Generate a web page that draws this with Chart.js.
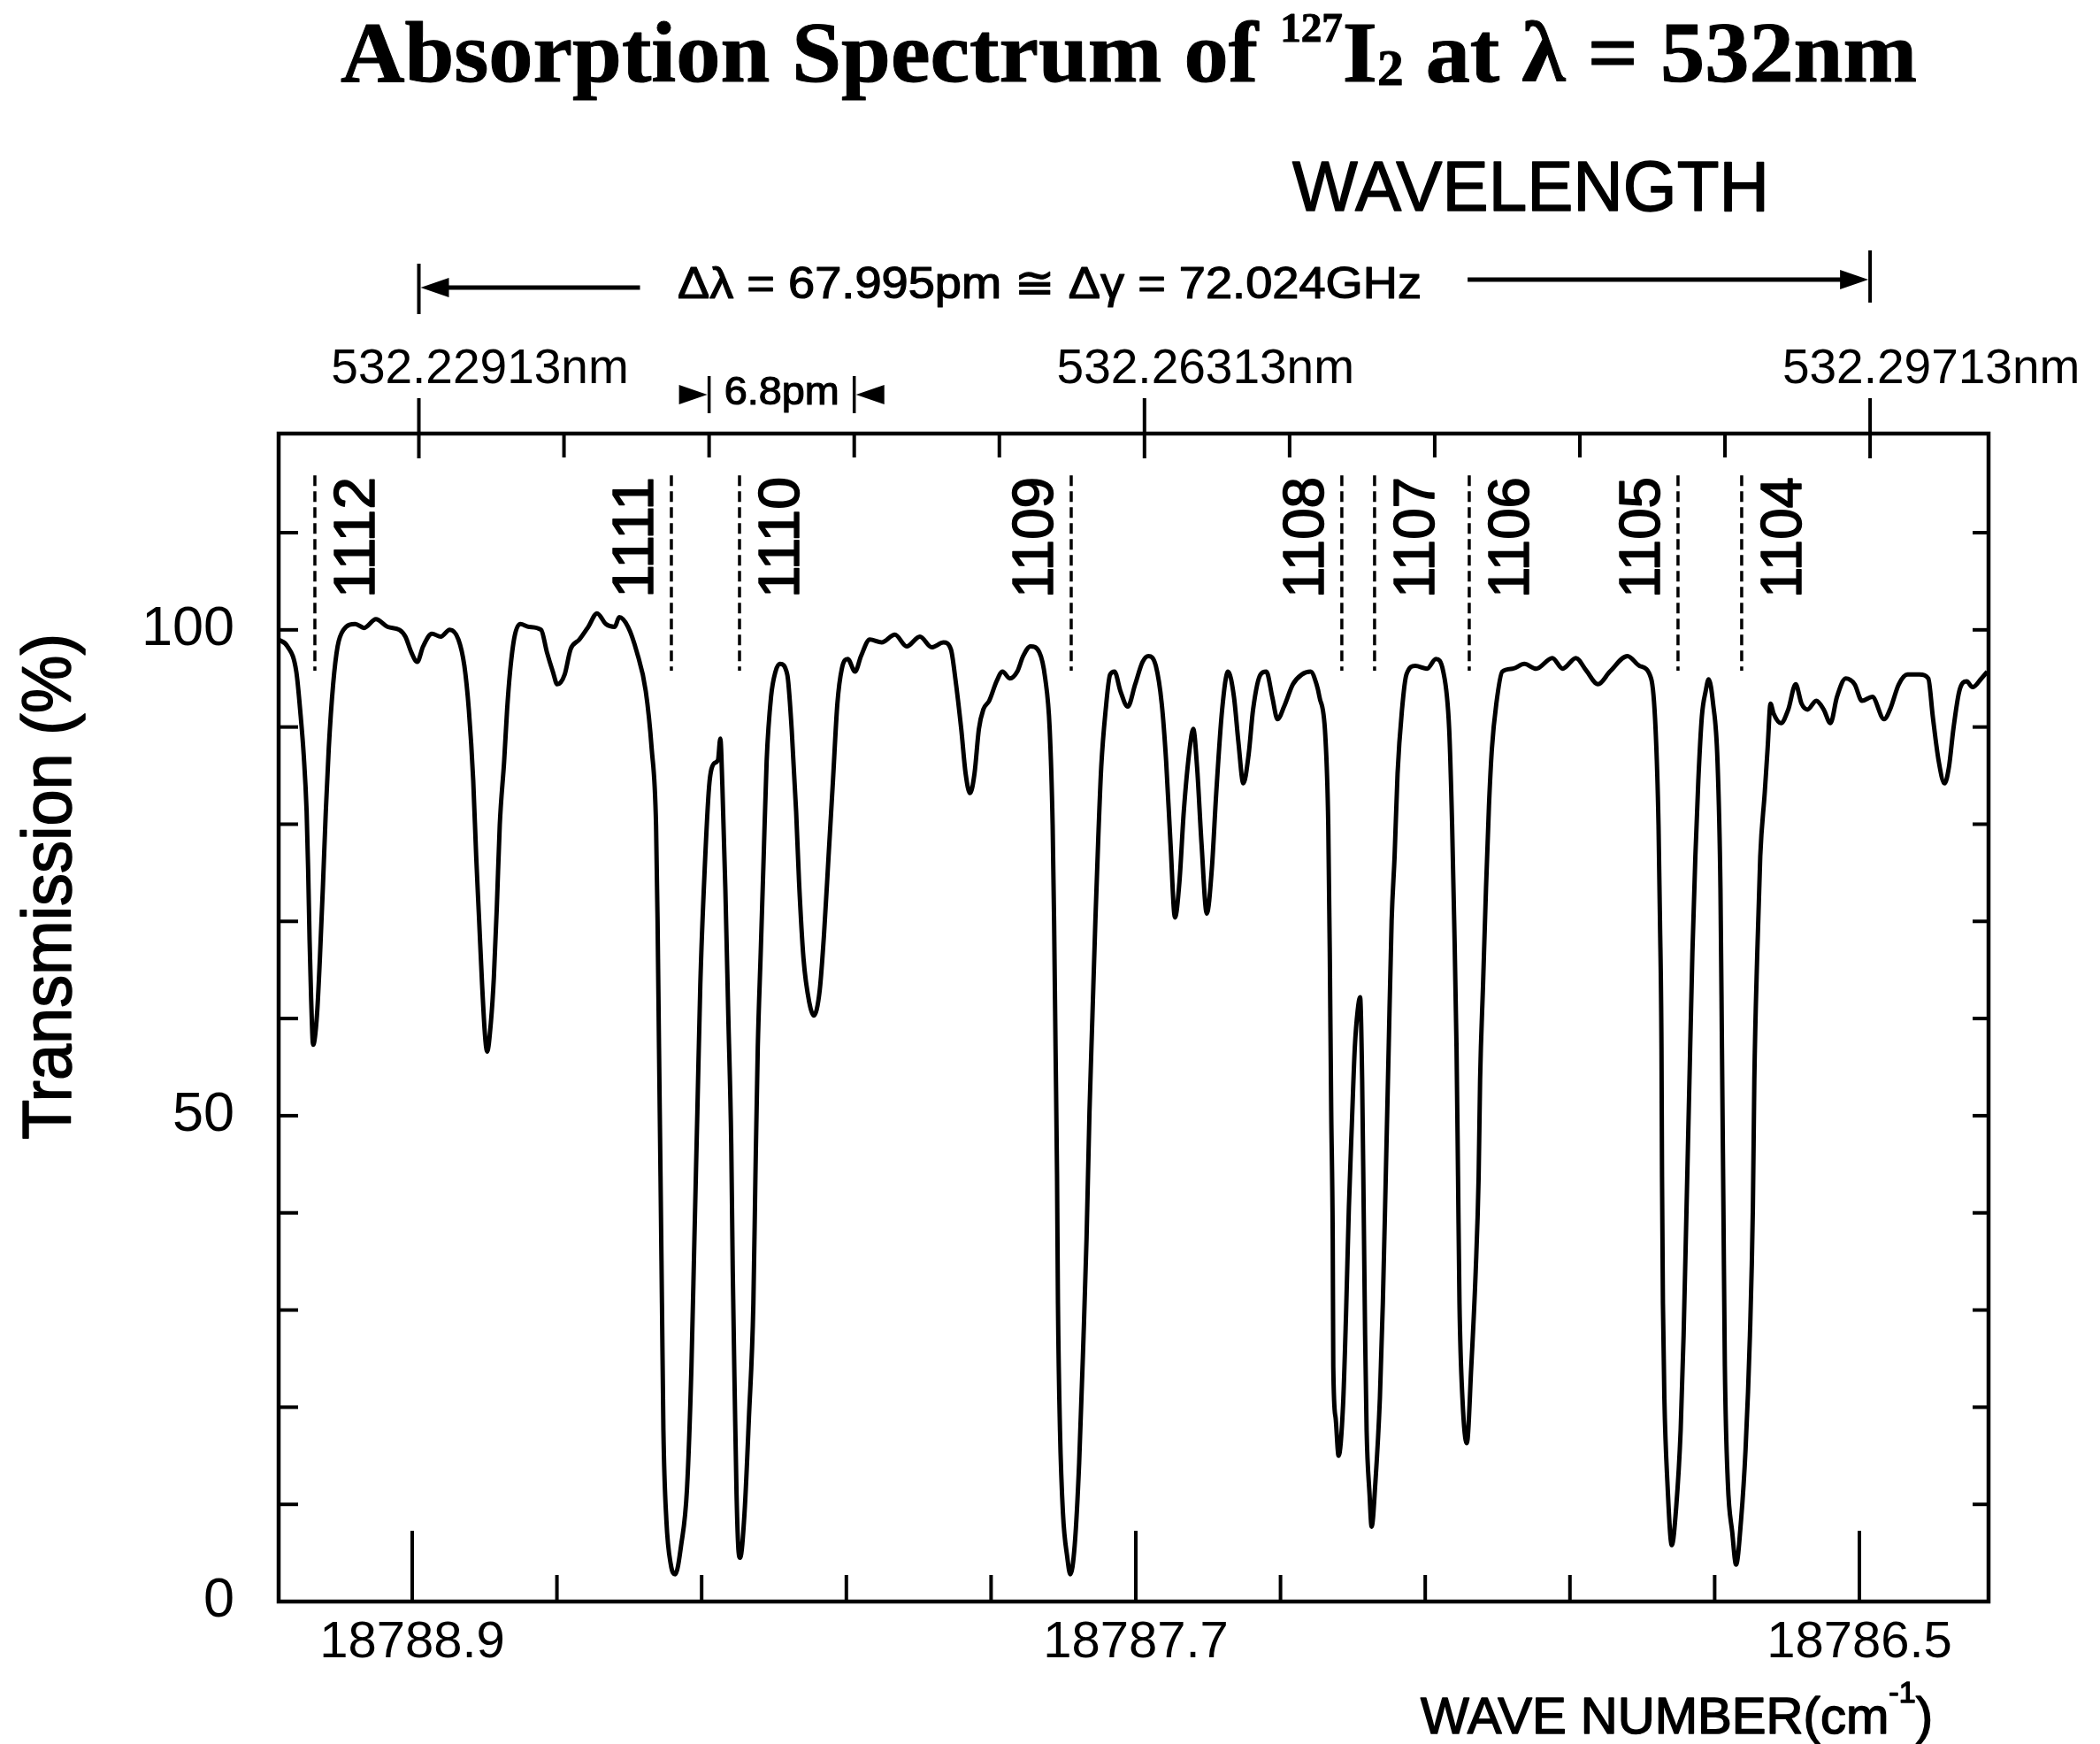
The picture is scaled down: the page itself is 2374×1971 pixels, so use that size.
<!DOCTYPE html>
<html>
<head>
<meta charset="utf-8">
<title>Absorption Spectrum of 127I2 at 532nm</title>
<script src="https://cdn.jsdelivr.net/npm/chart.js@4.4.1/dist/chart.umd.min.js"></script>
<style>
  html, body { margin: 0; padding: 0; background: #fff; }
</style>
</head>
<body>
<canvas id="spectrumChart" width="2374" height="1971"></canvas>
<script>
// wave number (cm-1) from left to right
const waveNumbers = [
  18789.1215, 18789.1069, 18789.0922, 18789.0849, 18789.0800, 18789.0751, 18789.0726, 18789.0702, 18789.0677, 18789.0643,
  18789.0580, 18789.0531, 18789.0482, 18789.0433, 18789.0384, 18789.0311, 18789.0237, 18789.0140, 18788.9944, 18788.9797,
  18788.9602, 18788.9406, 18788.9211, 18788.9113, 18788.9015, 18788.8917, 18788.8819, 18788.8673, 18788.8526, 18788.8379,
  18788.8233, 18788.8135, 18788.8061, 18788.7988, 18788.7939, 18788.7890, 18788.7841, 18788.7793, 18788.7758, 18788.7695,
  18788.7646, 18788.7597, 18788.7548, 18788.7475, 18788.7426, 18788.7377, 18788.7303, 18788.7206, 18788.7059, 18788.6863,
  18788.6766, 18788.6668, 18788.6594, 18788.6472, 18788.6374, 18788.6228, 18788.6081, 18788.5934, 18788.5788, 18788.5641,
  18788.5567, 18788.5420, 18788.5274, 18788.5127, 18788.5029, 18788.4956, 18788.4931, 18788.4907, 18788.4882, 18788.4858,
  18788.4834, 18788.4785, 18788.4711, 18788.4638, 18788.4540, 18788.4442, 18788.4369, 18788.4320, 18788.4271, 18788.4222,
  18788.4149, 18788.4076, 18788.4002, 18788.3929, 18788.3890, 18788.3856, 18788.3807, 18788.3758, 18788.3709, 18788.3684,
  18788.3650, 18788.3621, 18788.3587, 18788.3562, 18788.3489, 18788.3416, 18788.3342, 18788.3308, 18788.3269, 18788.3220,
  18788.3171, 18788.3122, 18788.3049, 18788.2975, 18788.2902, 18788.2780, 18788.2707, 18788.2633, 18788.2584, 18788.2511,
  18788.2413, 18788.2340, 18788.2242, 18788.2169, 18788.2095, 18788.2022, 18788.1949, 18788.1875, 18788.1778, 18788.1655,
  18788.1557, 18788.1411, 18788.1215, 18788.0995, 18788.0800, 18788.0580, 18788.0384, 18788.0188, 18788.0066, 18787.9993,
  18787.9895, 18787.9822, 18787.9749, 18787.9675, 18787.9602, 18787.9529, 18787.9431, 18787.9309, 18787.9211, 18787.9088,
  18787.8966, 18787.8868, 18787.8746, 18787.8600, 18787.8502, 18787.8428, 18787.8379, 18787.8355, 18787.8331, 18787.8306,
  18787.8291, 18787.8257, 18787.8208, 18787.8135, 18787.8086, 18787.8013, 18787.7939, 18787.7866, 18787.7817, 18787.7768,
  18787.7719, 18787.7670, 18787.7622, 18787.7573, 18787.7499, 18787.7426, 18787.7353, 18787.7255, 18787.7133, 18787.7010,
  18787.6888, 18787.6790, 18787.6668, 18787.6570, 18787.6497, 18787.6424, 18787.6350, 18787.6277, 18787.6204, 18787.6106,
  18787.6047, 18787.5984, 18787.5910, 18787.5822, 18787.5739, 18787.5666, 18787.5568, 18787.5470, 18787.5372, 18787.5299,
  18787.5216, 18787.5128, 18787.5055, 18787.4932, 18787.4835, 18787.4737, 18787.4649, 18787.4541, 18787.4394, 18787.4248,
  18787.4101, 18787.4003, 18787.3954, 18787.3857, 18787.3808, 18787.3783, 18787.3759, 18787.3734, 18787.3725, 18787.3686,
  18787.3637, 18787.3563, 18787.3514, 18787.3466, 18787.3417, 18787.3368, 18787.3319, 18787.3280, 18787.3246, 18787.3221,
  18787.3197, 18787.3172, 18787.3123, 18787.3089, 18787.3026, 18787.2952, 18787.2903, 18787.2854, 18787.2806, 18787.2757,
  18787.2708, 18787.2659, 18787.2585, 18787.2512, 18787.2365, 18787.2170, 18787.2023, 18787.1901, 18787.1803, 18787.1754,
  18787.1720, 18787.1681, 18787.1656, 18787.1632, 18787.1583, 18787.1510, 18787.1436, 18787.1363, 18787.1314, 18787.1290,
  18787.1241, 18787.1192, 18787.1143, 18787.1094, 18787.1021, 18787.0923, 18787.0752, 18787.0556, 18787.0361, 18787.0092,
  18786.9921, 18786.9701, 18786.9529, 18786.9334, 18786.9138, 18786.8845, 18786.8649, 18786.8454, 18786.8380, 18786.8331,
  18786.8307, 18786.8282, 18786.8273, 18786.8258, 18786.8234, 18786.8184, 18786.8111, 18786.8038, 18786.7964, 18786.7915,
  18786.7866, 18786.7818, 18786.7769, 18786.7720, 18786.7671, 18786.7612, 18786.7549, 18786.7500, 18786.7426, 18786.7353,
  18786.7304, 18786.7279, 18786.7255, 18786.7231, 18786.7182, 18786.7108, 18786.7045, 18786.6962, 18786.6888, 18786.6815,
  18786.6766, 18786.6742, 18786.6693, 18786.6644, 18786.6570, 18786.6522, 18786.6473, 18786.6424, 18786.6301, 18786.6179,
  18786.6057, 18786.5959, 18786.5861, 18786.5715, 18786.5592, 18786.5480, 18786.5372, 18786.5226, 18786.5079, 18786.4957,
  18786.4786, 18786.4590, 18786.4492, 18786.4346, 18786.4199, 18786.4003, 18786.3857, 18786.3783, 18786.3685, 18786.3588,
  18786.3514, 18786.3441, 18786.3343, 18786.3221, 18786.3123, 18786.2976, 18786.2879
];

// transmission (%) at each wave number above
const transmission = [
  99.0, 98.3, 95.7, 91.1, 87.2, 81.3, 75.4, 68.1, 62.2, 57.3,
  60.3, 66.2, 73.4, 81.3, 87.8, 94.4, 98.3, 100.0, 100.6, 100.2,
  101.1, 100.3, 100.0, 99.3, 97.7, 96.7, 98.3, 99.6, 99.3, 100.0,
  99.0, 96.3, 91.8, 84.5, 76.7, 70.1, 63.5, 58.3, 56.6, 59.6,
  64.2, 71.4, 79.9, 86.5, 91.8, 95.7, 99.3, 100.6, 100.3, 100.0,
  97.7, 95.7, 94.4, 95.4, 98.0, 99.0, 100.3, 101.7, 100.6, 100.3,
  101.3, 100.3, 97.7, 93.7, 87.8, 79.9, 70.1, 57.0, 43.8, 30.7,
  17.6, 8.4, 3.8, 2.8, 5.8, 11.7, 24.2, 37.3, 50.4, 63.5,
  75.4, 83.9, 86.2, 86.6, 88.8, 83.9, 73.4, 60.3, 47.1, 34.0,
  20.9, 11.0, 5.1, 4.5, 9.1, 18.9, 30.7, 43.8, 57.0, 66.8,
  76.7, 86.5, 93.1, 95.7, 96.5, 95.4, 89.8, 81.3, 74.0, 66.2,
  61.6, 60.3, 62.9, 68.8, 76.7, 84.5, 92.4, 96.0, 97.0, 95.7,
  97.3, 99.0, 98.7, 99.5, 98.3, 99.3, 98.2, 98.7, 98.0, 95.0,
  89.8, 85.2, 83.2, 85.2, 89.8, 91.8, 92.7, 94.7, 95.7, 95.0,
  95.7, 97.3, 98.3, 97.7, 95.0, 89.8, 79.9, 70.1, 57.0, 43.8,
  30.7, 17.6, 9.1, 4.5, 2.8, 5.8, 14.3, 27.4, 37.3, 50.4,
  60.3, 70.1, 78.6, 85.9, 91.8, 95.4, 95.7, 93.7, 92.1, 94.4,
  96.7, 97.3, 96.3, 92.4, 86.5, 78.0, 70.4, 74.0, 81.3, 87.8,
  89.8, 85.9, 78.0, 70.8, 75.4, 83.2, 91.8, 95.7, 93.1, 88.5,
  84.2, 87.2, 91.8, 95.4, 95.7, 93.1, 90.8, 92.1, 94.4, 95.4,
  95.7, 94.4, 93.1, 89.1, 79.9, 66.8, 50.4, 37.3, 24.2, 18.9,
  15.0, 20.2, 29.4, 40.6, 49.1, 57.0, 60.9, 62.2, 53.7, 40.6,
  27.4, 17.6, 11.0, 7.7, 12.3, 20.9, 30.7, 43.8, 57.0, 70.1,
  76.7, 85.2, 91.8, 95.4, 96.3, 96.0, 97.0, 95.7, 89.8, 79.9,
  70.1, 57.0, 43.8, 30.7, 20.9, 16.3, 24.2, 34.0, 43.8, 53.7,
  63.5, 73.4, 81.9, 87.8, 92.4, 95.7, 96.0, 96.5, 96.0, 97.1,
  96.0, 97.1, 95.8, 94.4, 95.7, 97.3, 96.3, 95.0, 89.8, 79.9,
  70.1, 57.0, 43.8, 30.7, 20.9, 12.3, 5.8, 9.7, 17.6, 27.4,
  40.6, 53.7, 66.8, 76.7, 84.5, 91.1, 93.7, 94.9, 92.4, 86.5,
  73.4, 57.0, 40.6, 24.2, 12.3, 7.1, 3.8, 8.4, 15.6, 27.4,
  40.6, 53.7, 66.8, 76.7, 83.2, 87.8, 92.4, 91.4, 90.4, 91.8,
  94.4, 92.4, 91.8, 92.7, 91.8, 90.4, 93.1, 95.0, 94.4, 92.7,
  93.1, 90.8, 91.8, 94.4, 95.4, 95.4, 95.0, 91.1, 86.5, 84.2,
  85.9, 89.8, 93.7, 94.7, 94.1, 95.0, 95.7
];

// assigned absorption lines
const lineNames = ['1112', '1111', '1110', '1109', '1108', '1107', '1106', '1105', '1104'];
const lineWaveNumbers = [18789.0614, 18788.4702, 18788.3572, 18787.8071, 18787.3583, 18787.3040, 18787.1470, 18786.8008, 18786.6952];

// axis ticks
const waveNumberMajorTicks = [18788.9, 18787.7, 18786.5];
const waveNumberMinorTicks = [18788.66, 18788.42, 18788.18, 18787.94, 18787.46, 18787.22, 18786.98, 18786.74];
const wavelengthMajorTicks = [532.22913, 532.26313, 532.29713];
const wavelengthMinorTicks = [532.23593, 532.24273, 532.24953, 532.25633, 532.26993, 532.27673, 532.28353, 532.29033];
const transmissionLabelTicks = [0, 50, 100];
const transmissionMinorTicks = [10, 20, 30, 40, 50, 60, 70, 80, 90, 100, 110];

const SANS = '"Liberation Sans", Arial, Helvetica, sans-serif';
const SERIF = '"Liberation Serif", "Times New Roman", serif';

// label on the left or right of its dashed line
const labelSide = { '1112': 1, '1111': -1, '1110': 1, '1109': -1, '1108': -1, '1107': 1, '1106': 1, '1105': -1, '1104': 1 };

// draw a row of text pieces (for super/subscripts), squeezed to a width
function drawRuns(ctx, runs, x, y, opts) {
  ctx.save();
  ctx.textAlign = 'left';
  ctx.textBaseline = 'alphabetic';
  let total = 0;
  runs.forEach(r => { ctx.font = r.font; r.w = ctx.measureText(r.text).width; total += r.w; });
  ctx.translate(x, y);
  if (opts.rotate) ctx.rotate(opts.rotate);
  ctx.scale(opts.width ? opts.width / total : 1, 1);
  ctx.lineWidth = opts.stroke || 0;
  ctx.lineJoin = 'round';
  let cx = opts.align === 'center' ? -total / 2 : 0;
  runs.forEach(r => {
    ctx.font = r.font;
    ctx.fillText(r.text, cx, r.dy || 0);
    if (opts.stroke) ctx.strokeText(r.text, cx, r.dy || 0);
    cx += r.w;
  });
  ctx.restore();
}

function arrowHead(ctx, tipX, y, dir) {
  ctx.beginPath();
  ctx.moveTo(tipX, y);
  ctx.lineTo(tipX - dir * 32, y - 11);
  ctx.lineTo(tipX - dir * 32, y + 11);
  ctx.closePath();
  ctx.fill();
}

function line(ctx, x1, y1, x2, y2) {
  ctx.beginPath();
  ctx.moveTo(x1, y1);
  ctx.lineTo(x2, y2);
  ctx.stroke();
}

const decorations = {
  id: 'decorations',
  afterDraw(chart) {
    const ctx = chart.ctx;
    const { left, right, top, bottom } = chart.chartArea;
    const xs = chart.scales.x, ws = chart.scales.x2, ys = chart.scales.y;
    ctx.save();
    ctx.strokeStyle = '#000';
    ctx.fillStyle = '#000';
    ctx.lineCap = 'butt';

    // frame
    ctx.lineWidth = 4.5;
    ctx.strokeRect(left, top, right - left, bottom - top);

    // tick marks, all pointing inward
    ctx.lineWidth = 4;
    waveNumberMajorTicks.forEach(v => { const p = xs.getPixelForValue(v); line(ctx, p, bottom, p, bottom - 80); });
    waveNumberMinorTicks.forEach(v => { const p = xs.getPixelForValue(v); line(ctx, p, bottom, p, bottom - 30); });
    wavelengthMajorTicks.forEach(v => { const p = ws.getPixelForValue(v); line(ctx, p, top - 40, p, top + 28); });
    wavelengthMinorTicks.forEach(v => { const p = ws.getPixelForValue(v); line(ctx, p, top, p, top + 27); });
    transmissionMinorTicks.forEach(v => {
      const p = ys.getPixelForValue(v);
      line(ctx, left, p, left + 22, p);
      line(ctx, right, p, right - 18, p);
    });

    // dashed markers and rotated line numbers
    ctx.lineWidth = 3.5;
    ctx.setLineDash([12, 6]);
    lineWaveNumbers.forEach(v => {
      const p = xs.getPixelForValue(v);
      line(ctx, p, ys.getPixelForValue(115.9), p, ys.getPixelForValue(95.8));
    });
    ctx.setLineDash([]);
    const labelY = ys.getPixelForValue(109.5);
    lineNames.forEach((name, i) => {
      const p = xs.getPixelForValue(lineWaveNumbers[i]) + labelSide[name] * 44;
      drawRuns(ctx, [{ text: name, font: '64px ' + SANS }], p + 23, labelY, { rotate: -Math.PI / 2, align: 'center', width: 137, stroke: 1.5 });
    });

    // title
    drawRuns(ctx, [
      { text: 'Absorption Spectrum of ', font: 'bold 98px ' + SERIF },
      { text: '127', font: 'bold 46px ' + SERIF, dy: -45 },
      { text: 'I', font: 'bold 98px ' + SERIF },
      { text: '2', font: 'bold 58px ' + SERIF, dy: 4 },
      { text: ' at \u03BB = 532nm', font: 'bold 98px ' + SERIF }
    ], 385, 92, { width: 1782, stroke: 1 });

    // wavelength header and span arrows
    drawRuns(ctx, [{ text: 'WAVELENGTH', font: '80px ' + SANS }], 1461, 238, { width: 539, stroke: 1.5 });
    const wl0 = ws.getPixelForValue(wavelengthMajorTicks[0]);
    const wl2 = ws.getPixelForValue(wavelengthMajorTicks[2]);
    ctx.lineWidth = 4;
    line(ctx, wl0, 298, wl0, 355);
    line(ctx, wl2, 283, wl2, 342);
    ctx.lineWidth = 5;
    line(ctx, wl0 + 20, 325, wl0 + 250, 325);
    arrowHead(ctx, wl0 + 2, 325, -1);
    line(ctx, wl2 - 455, 316, wl2 - 20, 316);
    arrowHead(ctx, wl2 - 2, 316, 1);
    drawRuns(ctx, [{ text: '\u0394\u03BB = 67.995pm \u2245 \u0394\u03B3 = 72.024GHz', font: '50px ' + SANS }], 766, 337, { width: 841, stroke: 1.2 });

    // 6.8 pm spacing marker
    const s0 = ws.getPixelForValue(wavelengthMinorTicks[1]);
    const s1 = ws.getPixelForValue(wavelengthMinorTicks[2]);
    ctx.lineWidth = 3.5;
    line(ctx, s0, 425, s0, 467);
    line(ctx, s1, 425, s1, 467);
    line(ctx, s0 - 32, 446, s0 - 10, 446);
    line(ctx, s1 + 10, 446, s1 + 32, 446);
    arrowHead(ctx, s0 - 2, 446, 1);
    arrowHead(ctx, s1 + 2, 446, -1);
    drawRuns(ctx, [{ text: '6.8pm', font: '44px ' + SANS }], (s0 + s1) / 2, 457, { align: 'center', width: 130, stroke: 1.2 });

    // axis titles
    drawRuns(ctx, [{ text: 'Transmission (%)', font: '78px ' + SANS }], 80, 1002, { rotate: -Math.PI / 2, align: 'center', width: 572, stroke: 1.5 });
    drawRuns(ctx, [
      { text: 'WAVE NUMBER(cm', font: '58px ' + SANS },
      { text: '-1', font: '34px ' + SANS, dy: -35 },
      { text: ')', font: '58px ' + SANS }
    ], 1606, 1959, { width: 579, stroke: 1.5 });

    ctx.restore();
  }
};

const ctx = document.getElementById('spectrumChart').getContext('2d');

new Chart(ctx, {
  type: 'line',
  data: {
    datasets: [{
      label: 'Transmission',
      data: waveNumbers.map((w, i) => ({ x: w, y: transmission[i] })),
      xAxisID: 'x',
      yAxisID: 'y',
      borderColor: '#000',
      borderWidth: 5,
      borderJoinStyle: 'round',
      pointRadius: 0,
      fill: false,
      cubicInterpolationMode: 'monotone'
    }]
  },
  options: {
    responsive: false,
    animation: false,
    layout: { padding: { left: 0, top: 0, right: 126, bottom: 0 } },
    plugins: { legend: { display: false }, tooltip: { enabled: false } },
    scales: {
      x: {
        type: 'linear',
        position: 'bottom',
        reverse: true,
        min: 18786.2858,
        max: 18789.1215,
        grid: { display: false, drawTicks: false },
        border: { display: false },
        afterBuildTicks: s => { s.ticks = waveNumberMajorTicks.map(v => ({ value: v })); },
        afterFit: s => { s.height = 161; },
        ticks: {
          color: '#000', padding: 12, maxRotation: 0, autoSkip: false,
          font: { family: SANS, size: 58 },
          callback: v => Number(v).toFixed(1)
        }
      },
      x2: {
        type: 'linear',
        position: 'top',
        min: 532.22256,
        max: 532.30268,
        grid: { display: false, drawTicks: false },
        border: { display: false },
        afterBuildTicks: s => { s.ticks = wavelengthMajorTicks.map(v => ({ value: v })); },
        afterFit: s => { s.height = 490; },
        ticks: {
          color: '#000', padding: 39, labelOffset: 69, maxRotation: 0, autoSkip: false,
          font: { family: SANS, size: 55 },
          callback: v => Number(v).toFixed(5) + 'nm'
        }
      },
      y: {
        type: 'linear',
        position: 'left',
        min: 0,
        max: 120.2,
        grid: { display: false, drawTicks: false },
        border: { display: false },
        afterBuildTicks: s => { s.ticks = transmissionLabelTicks.map(v => ({ value: v })); },
        afterFit: s => { s.width = 315; },
        ticks: {
          color: '#000', padding: 50,
          font: { family: SANS, size: 63 },
          callback: v => String(v)
        }
      }
    }
  },
  plugins: [decorations]
});
</script>
</body>
</html>
